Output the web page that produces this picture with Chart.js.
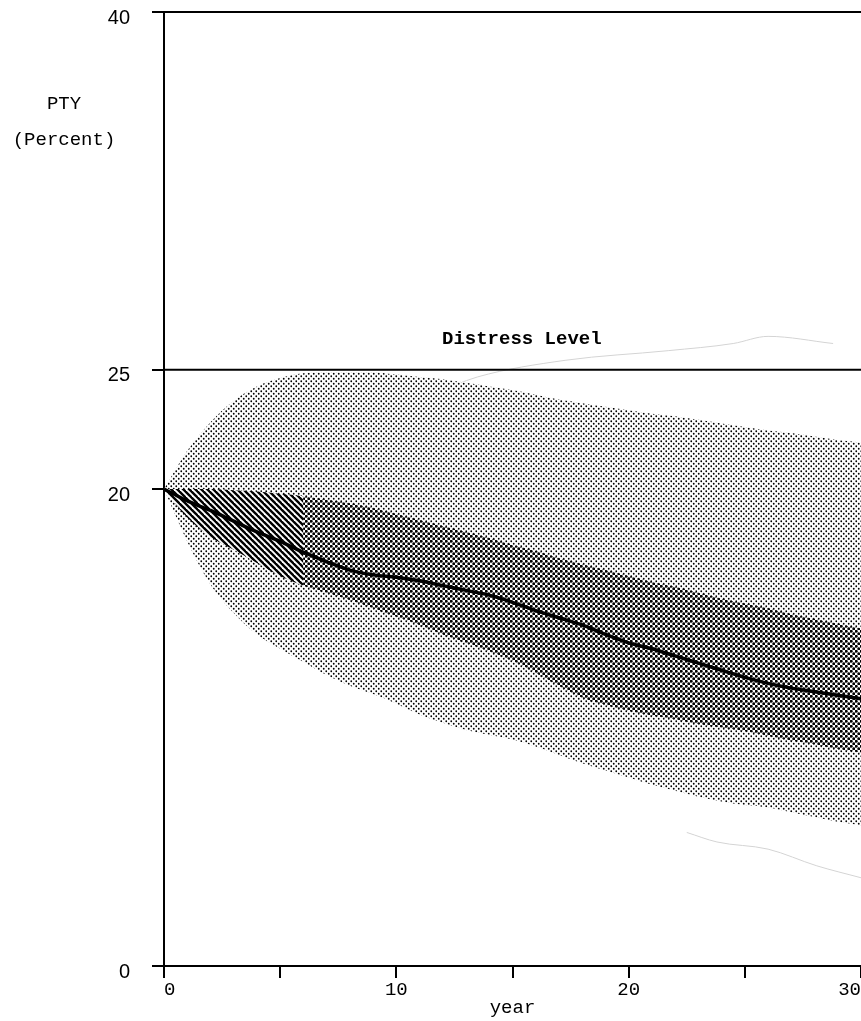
<!DOCTYPE html>
<html>
<head>
<meta charset="utf-8">
<script src="https://cdn.jsdelivr.net/npm/chart.js@4.4.1/dist/chart.umd.min.js"></script>
<style>
  html, body { margin: 0; padding: 0; background: #fff; overflow: hidden; }
  #marco { width: 861px; height: 1021px; position: relative; }
</style>
</head>
<body>
<div id="marco"><canvas id="graficoPTY"></canvas></div>
<script>
// datos (PTY en %, por año)
const years = [0, 1, 2, 3, 4, 5, 6, 7, 8, 9, 10, 11, 12, 13, 14, 15, 16, 17, 18, 19, 20, 21, 22, 23, 24, 25, 26, 27, 28, 29, 30];
const median = [20, 19.5, 19.1, 18.65, 18.2, 17.8, 17.35, 16.95, 16.6, 16.4, 16.3, 16.15, 15.95, 15.75, 15.55, 15.25, 14.9, 14.6, 14.3, 13.9, 13.55, 13.3, 13.0, 12.7, 12.4, 12.1, 11.85, 11.65, 11.5, 11.35, 11.2];
const innerUpper = [20, 20, 20, 19.95, 19.9, 19.8, 19.7, 19.55, 19.4, 19.2, 18.95, 18.7, 18.45, 18.2, 17.95, 17.65, 17.4, 17.1, 16.85, 16.6, 16.35, 16.1, 15.9, 15.65, 15.4, 15.2, 15.0, 14.75, 14.55, 14.35, 14.15];
const innerLower = [20, 18.8, 18.0, 17.45, 16.9, 16.35, 15.95, 15.65, 15.35, 15.0, 14.65, 14.3, 13.9, 13.55, 13.2, 12.8, 12.3, 11.75, 11.25, 10.95, 10.7, 10.5, 10.35, 10.15, 10.0, 9.85, 9.65, 9.45, 9.3, 9.1, 8.95];
const outerUpper = [20, 21.6, 22.8, 23.7, 24.3, 24.65, 24.85, 24.9, 24.9, 24.9, 24.8, 24.7, 24.6, 24.45, 24.3, 24.15, 23.95, 23.75, 23.6, 23.45, 23.3, 23.15, 23.05, 22.9, 22.75, 22.6, 22.45, 22.35, 22.2, 22.05, 21.95];
const outerLower = [20, 17.8, 16.0, 14.8, 13.9, 13.3, 12.75, 12.2, 11.75, 11.4, 11.0, 10.55, 10.2, 9.9, 9.7, 9.5, 9.2, 8.85, 8.5, 8.2, 7.9, 7.6, 7.35, 7.1, 6.9, 6.75, 6.65, 6.45, 6.25, 6.05, 5.9];
const distressLevel = 25;
const distressYears = [0, 30];

// trazos de lapiz casi borrados
const faintUpperYears = [4.3, 8, 11.6, 13.5, 17.3, 21.7, 24.5, 26, 28.8];
const faintUpperValues = [21.5, 22.8, 24.0, 24.7, 25.4, 25.8, 26.1, 26.4, 26.1];
const faintLowerYears = [22.5, 23.8, 26.0, 28.1, 30];
const faintLowerValues = [5.6, 5.2, 4.9, 4.2, 3.7];

const yTicks = [0, 20, 25, 40];
const xTicks = [0, 5, 10, 15, 20, 25, 30];
const xTickLabels = ["0", "", "10", "", "20", "", "30"];

const hatchEnd = 6;

function puntos(serieX, serieY) {
  return serieX.map((x, i) => ({ x: x, y: serieY[i] }));
}

function patronPuntos(radio) {
  const c = document.createElement("canvas");
  c.width = 5;
  c.height = 5;
  const g = c.getContext("2d");
  g.fillStyle = "#fff";
  g.fillRect(0, 0, 5, 5);
  g.fillStyle = "#000";
  [[1.25, 1.25], [3.75, 3.75]].forEach(([px, py]) => {
    g.beginPath();
    g.arc(px, py, radio, 0, Math.PI * 2);
    g.fill();
  });
  return g.createPattern(c, "repeat");
}

function patronRayas() {
  const c = document.createElement("canvas");
  c.width = 6;
  c.height = 6;
  const g = c.getContext("2d");
  g.fillStyle = "#fff";
  g.fillRect(0, 0, 6, 6);
  g.strokeStyle = "#000";
  g.lineWidth = 2.4;
  [-6, 0, 6].forEach((o) => {
    g.beginPath();
    g.moveTo(o - 1, -1);
    g.lineTo(o + 7, 7);
    g.stroke();
  });
  return g.createPattern(c, "repeat");
}

const puntosClaros = patronPuntos(0.9);
const puntosOscuros = patronPuntos(1.45);
const rayas = patronRayas();

const textos = {
  id: "textos",
  afterDraw(chart) {
    const { ctx, scales } = chart;
    ctx.save();
    ctx.fillStyle = "#000";
    ctx.textAlign = "center";
    ctx.textBaseline = "middle";
    ctx.font = 'bold 19px "Liberation Mono"';
    ctx.fillText("Distress Level", scales.x.getPixelForValue(15.4), scales.y.getPixelForValue(distressLevel) - 31);
    ctx.font = '19px "Liberation Mono"';
    ctx.fillText("PTY", 64, 104);
    ctx.fillText("(Percent)", 64, 140);
    ctx.restore();
  },
};

const base = {
  pointRadius: 0,
  borderWidth: 0,
  cubicInterpolationMode: "monotone",
};

const ctx = document.getElementById("graficoPTY").getContext("2d");
const grafico = new Chart(ctx, {
  type: "line",
  data: {
    datasets: [
      { ...base, label: "Mediana", data: puntos(years, median), borderColor: "#000", borderWidth: 3.5, fill: false, order: 0 },
      { label: "Distress Level", data: puntos(distressYears, distressYears.map(() => distressLevel)), borderColor: "#000", borderWidth: 2, pointRadius: 0, fill: false, order: 0 },
      // banda interior
      {
        ...base, label: "Banda interior", data: puntos(years, innerUpper), borderColor: "rgba(0,0,0,0)",
        backgroundColor: puntosOscuros, fill: "+1", order: 2,
        segment: { backgroundColor: (c) => (c.p0.parsed.x < hatchEnd ? rayas : puntosOscuros) },
      },
      { ...base, label: "Banda interior inf", data: puntos(years, innerLower), borderColor: "rgba(0,0,0,0)", fill: false, order: 2 },
      // banda exterior
      { ...base, label: "Banda exterior", data: puntos(years, outerUpper), borderColor: "rgba(0,0,0,0)", backgroundColor: puntosClaros, fill: "+1", order: 3 },
      { ...base, label: "Banda exterior inf", data: puntos(years, outerLower), borderColor: "rgba(0,0,0,0)", fill: false, order: 3 },
      // lapiz
      { ...base, label: "lapiz sup", data: puntos(faintUpperYears, faintUpperValues), borderColor: "#d4d4d4", borderWidth: 1, fill: false, order: 4 },
      { ...base, label: "lapiz inf", data: puntos(faintLowerYears, faintLowerValues), borderColor: "#d4d4d4", borderWidth: 1, fill: false, order: 4 },
    ],
  },
  options: {
    responsive: true,
    maintainAspectRatio: false,
    animation: false,
    layout: { padding: { left: 94, top: 12, right: 0, bottom: 0 } },
    plugins: { legend: { display: false }, tooltip: { enabled: false } },
    scales: {
      x: {
        type: "linear",
        min: 0,
        max: 30,
        afterBuildTicks: (axis) => {
          axis.ticks = xTicks.map((v) => ({ value: v }));
        },
        afterFit: (axis) => {
          axis.height = 55;
          axis.paddingLeft = 0;
          axis.paddingRight = 0;
        },
        ticks: {
          callback: (v, i) => xTickLabels[i],
          align: "inner",
          autoSkip: false,
          maxRotation: 0,
          padding: 1,
          color: "#000",
          font: { family: "Liberation Mono", size: 19 },
        },
        grid: { drawOnChartArea: false, color: "#000", tickColor: "#000", tickLength: 12, lineWidth: 2 },
        border: { color: "#000", width: 2 },
        title: {
          display: true,
          text: "year",
          color: "#000",
          font: { family: "Liberation Mono", size: 19 },
          padding: { top: 0, bottom: 2 },
        },
      },
      y: {
        type: "linear",
        min: 0,
        max: 40,
        afterBuildTicks: (axis) => {
          axis.ticks = yTicks.map((v) => ({ value: v }));
        },
        afterFit: (axis) => {
          axis.width = 70;
          axis.paddingTop = 0;
          axis.paddingBottom = 0;
        },
        ticks: {
          padding: 22,
          labelOffset: 6,
          color: "#000",
          font: { family: "Liberation Sans", size: 20 },
        },
        grid: {
          color: (c) => (c.tick && c.tick.value === 40 ? "#000" : "rgba(0,0,0,0)"),
          lineWidth: 2,
          tickColor: "#000",
          tickLength: 12,
          tickWidth: 2,
        },
        border: { color: "#000", width: 2 },
      },
    },
  },
  plugins: [textos],
});
</script>
</body>
</html>
